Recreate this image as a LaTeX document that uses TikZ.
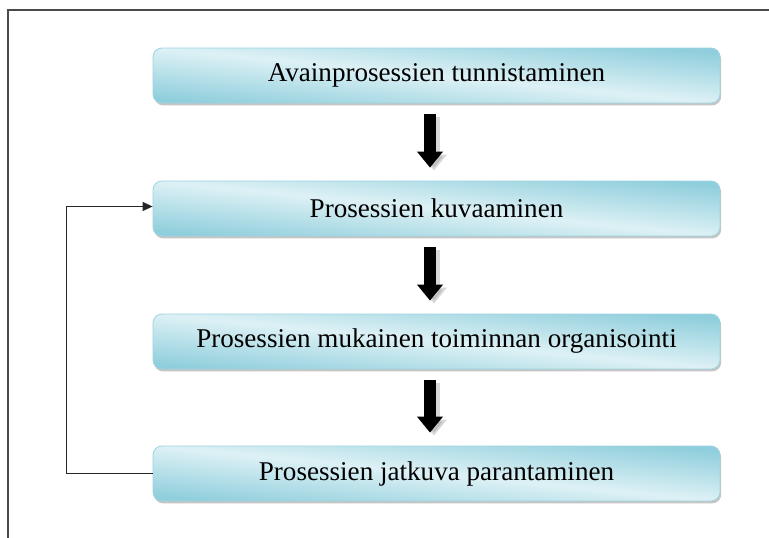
\documentclass[tikz,border=0pt]{standalone}
\usepackage{fontspec}
\setmainfont{Liberation Serif}
\usetikzlibrary{arrows.meta,shadows,calc}

\definecolor{bdark}{HTML}{8FCEDC}
\definecolor{blight}{HTML}{DDF1F5}
\definecolor{bedge}{HTML}{9ED4E0}
\definecolor{framegray}{HTML}{4A4A4A}

\tikzset{
  stagebox/.style={
    rectangle, rounded corners=9pt,
    minimum width=567pt, minimum height=55pt,
    draw=bedge, line width=0.8pt,
    top color=bdark, bottom color=bdark, middle color=blight,
    shading angle=-5.6,
    drop shadow={shadow xshift=1.2pt, shadow yshift=-2.4pt, opacity=0.45, fill=gray},
    font=\fontsize{27.1}{31}\selectfont, text=black, inner sep=0pt
  },
  blockarrow/.style={line width=12pt, -{Triangle[length=16pt,width=25pt]}},
  blockshadow/.style={blockarrow, draw=gray, opacity=0.3},
  loopline/.style={line width=1.1pt, draw=black!85, -{Triangle[length=10pt,width=9pt]}},
  framestyle/.style={line width=1.3pt, draw=framegray}
}

\begin{document}
\begin{tikzpicture}[x=1pt,y=-1pt]
  \useasboundingbox (0,0) rectangle (769,538);
  \fill[white] (0,0) rectangle (769,538);

  % outer frame, open to the right and bottom
  \draw[framestyle] (775,10) -- (8,10) -- (8,545);

  % process stages
  \node[stagebox] (b1) at (436.5,75.5)  {Avainprosessien tunnistaminen};
  \node[stagebox] (b2) at (436.5,208.5) {Prosessien kuvaaminen};
  \node[stagebox] (b3) at (436.5,341.5) {Prosessien mukainen toiminnan organisointi};
  \node[stagebox] (b4) at (436.5,473.5) {Prosessien jatkuva parantaminen};

  % downward block arrows between stages
  \foreach \a/\b in {b1/b2, b2/b3, b3/b4}{
    \coordinate (s) at ($(\a.south)+(-6.5,11)$);
    \coordinate (e) at ($(\b.north)+(-6.5,-13)$);
    \draw[blockshadow] ($(s)+(4,3)$) -- ($(e)+(4,3)$);
    \draw[blockarrow] (s) -- (e);
  }

  % feedback loop from improvement back to description
  \draw[loopline] (b4.west) -- ++(-86,0) |- ($(b2.west)+(0,-2)$);
\end{tikzpicture}
\end{document}
